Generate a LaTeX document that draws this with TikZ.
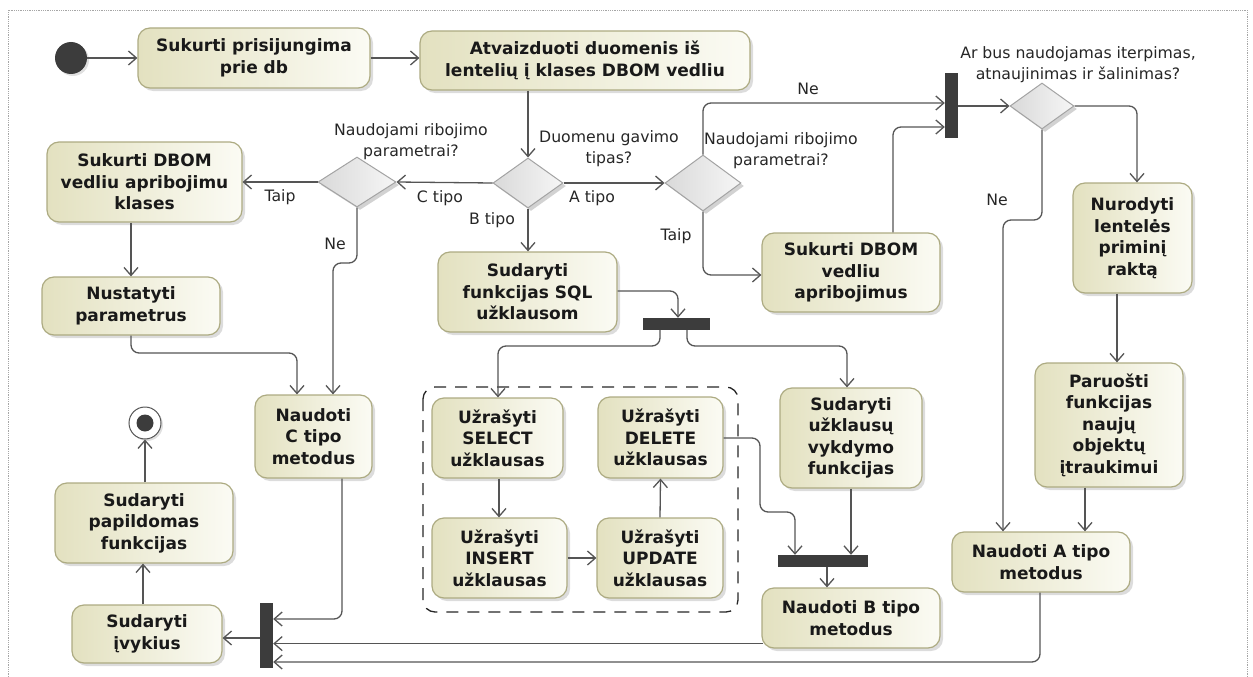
\documentclass[tikz,border=0pt]{standalone}
\usepackage{fontspec}
\setsansfont{DejaVu Sans}
\usetikzlibrary{arrows.meta,shadows,shapes.geometric,calc}
\definecolor{boxL}{HTML}{E3E1C0}
\definecolor{boxR}{HTML}{FBFBF4}
\definecolor{boxLine}{HTML}{ADAB82}
\definecolor{dmL}{HTML}{D9D9D9}
\definecolor{dmR}{HTML}{F6F6F6}
\definecolor{dmLine}{HTML}{A3A3A3}
\definecolor{flowGrey}{HTML}{555555}
\definecolor{barGrey}{HTML}{3C3C3C}
\newcommand\actfont{\sffamily\bfseries\fontsize{17}{21.5}\selectfont}
\newcommand\guardfont{\sffamily\fontsize{15.7}{21}\selectfont}
\tikzset{
  act/.style={rectangle, rounded corners=12pt, draw=boxLine, line width=1.2pt,
    left color=boxL, right color=boxR, align=center, font=\actfont, inner sep=0pt,
    text=black!90,
    drop shadow={shadow xshift=3pt, shadow yshift=-3pt, fill=black!30, opacity=.45}},
  choice/.style={diamond, draw=dmLine, line width=1pt, left color=dmL, right color=dmR,
    inner sep=0pt, aspect=1.4,
    drop shadow={shadow xshift=3pt, shadow yshift=-3pt, fill=black!35, opacity=.5}},
  syncbar/.style={rectangle, fill=barGrey, draw=none, inner sep=0pt},
  guard/.style={font=\guardfont, align=center, text=black!85, inner sep=0pt},
  flow/.style={draw=flowGrey, line width=1.3pt, rounded corners=8pt,
    -{Straight Barb[length=8pt,width=14pt]}},
  plain/.style={draw=flowGrey, line width=1.3pt, rounded corners=8pt},
}
\begin{document}
\begin{tikzpicture}[x=1pt,y=-1pt]
\useasboundingbox (0,0) rectangle (1253,677);
% outer frame
\draw[black!35, densely dotted, line width=0.8pt] (8,677) -- (8,10) -- (1247,10) -- (1247,677);

% start / end
\node[circle, fill=barGrey, minimum size=32pt, inner sep=0pt,
  drop shadow={shadow xshift=2pt, shadow yshift=-2pt, fill=black!30, opacity=.4}] (init) at (71,58) {};
\node[circle, fill=white, draw=flowGrey, line width=1pt, minimum size=32pt, inner sep=0pt,
  drop shadow={shadow xshift=2pt, shadow yshift=-2pt, fill=black!30, opacity=.4}] (final) at (145,423) {};
\node[circle, fill=barGrey, minimum size=17pt, inner sep=0pt] (finaldot) at (final) {};

% actions
\node[act, minimum width=232pt, minimum height=60pt] (n1) at (254,58) {Sukurti prisijungima\\prie db};
\node[act, minimum width=330pt, minimum height=59pt] (n2) at (585,60.5) {Atvaizduoti duomenis iš\\lentelių į klases DBOM vedliu};
\node[act, minimum width=195pt, minimum height=80pt] (n3) at (144.5,182) {Sukurti DBOM\\vedliu apribojimu\\klases};
\node[act, minimum width=178pt, minimum height=58pt] (n4) at (131,306) {Nustatyti\\parametrus};
\node[act, minimum width=117pt, minimum height=83pt] (n5) at (313.5,436.5) {Naudoti\\C tipo\\metodus};
\node[act, minimum width=178pt, minimum height=80pt] (n6) at (144,523) {Sudaryti\\papildomas\\funkcijas};
\node[act, minimum width=150pt, minimum height=58pt] (n7) at (147,634) {Sudaryti\\įvykius};
\node[act, minimum width=179pt, minimum height=80pt] (n8) at (527.5,292) {Sudaryti\\funkcijas SQL\\užklausom};

% query group
\draw[black!85, line width=1.3pt, dash pattern=on 12pt off 9pt, rounded corners=12pt]
  (423,387) rectangle (738,612);
\node[act, minimum width=131pt, minimum height=80pt] (n9) at (497.5,438) {Užrašyti\\SELECT\\užklausas};
\node[act, minimum width=125pt, minimum height=81pt] (n10) at (660.5,437.5) {Užrašyti\\DELETE\\užklausas};
\node[act, minimum width=135pt, minimum height=80pt] (n11) at (499.5,558) {Užrašyti\\INSERT\\užklausas};
\node[act, minimum width=126pt, minimum height=80pt] (n12) at (660,558) {Užrašyti\\UPDATE\\užklausas};

\node[act, minimum width=142pt, minimum height=100pt] (n13) at (851,438) {Sudaryti\\užklausų\\vykdymo\\funkcijas};
\node[act, minimum width=178pt, minimum height=60pt] (n14) at (851,618) {Naudoti B tipo\\metodus};
\node[act, minimum width=178pt, minimum height=79pt] (n15) at (851,272.5) {Sukurti DBOM\\vedliu\\apribojimus};
\node[act, minimum width=119pt, minimum height=110pt] (n16) at (1132.5,238) {Nurodyti\\lentelės\\priminį\\raktą};
\node[act, minimum width=148pt, minimum height=124pt] (n17) at (1109,425) {Paruošti\\funkcijas\\naujų\\objektų\\įtraukimui};
\node[act, minimum width=178pt, minimum height=60pt] (n18) at (1041,562) {Naudoti A tipo\\metodus};

% decisions
\node[choice, minimum width=70pt, minimum height=50pt] (d1) at (528,183) {};
\node[choice, minimum width=76pt, minimum height=56pt] (d2) at (703,183) {};
\node[choice, minimum width=78pt, minimum height=50pt] (d3) at (357,182) {};
\node[choice, minimum width=64pt, minimum height=46pt] (d4) at (1042,106) {};

% fork / join bars
\node[syncbar, minimum width=13pt, minimum height=65pt] (bar1) at (266.5,635.5) {};
\node[syncbar, minimum width=67pt, minimum height=12pt] (bar2) at (676.5,324) {};
\node[syncbar, minimum width=90pt, minimum height=12pt] (bar3) at (823,561) {};
\node[syncbar, minimum width=13pt, minimum height=65pt] (bar4) at (951.5,105.5) {};

% guard texts
\node[guard] (q1) at (609,149) {Duomenu gavimo\\tipas?};
\node[guard] (q2) at (781,151) {Naudojami ribojimo\\parametrai?};
\node[guard] (q3) at (411,142) {Naudojami ribojimo\\parametrai?};
\node[guard] (q4) at (1078,65) {Ar bus naudojamas iterpimas,\\atnaujinimas ir šalinimas?};
\node[guard] (gA) at (592,198) {A tipo};
\node[guard] (gB) at (492,220) {B tipo};
\node[guard] (gC) at (440,198) {C tipo};
\node[guard] (gT1) at (280,197) {Taip};
\node[guard] (gN1) at (335,244) {Ne};
\node[guard] (gT2) at (676,236) {Taip};
\node[guard] (gN2) at (808,89) {Ne};
\node[guard] (gN3) at (997,200) {Ne};

% flows
\draw[flow] (init) -- (n1.west |- init);
\draw[flow] (n1.east) -- (n1.east -| n2.west);
\draw[flow] (d1.north |- n2.south) -- (d1.north);
\draw[flow] (d1.east) -- (d2.west);
\draw[flow] (d1.west) -- (d3.east);
\draw[flow] (d1.south) -- (n8.north -| d1.south);
\draw[flow] (d3.west) -- (n3.east |- d3.west);
\draw[flow] (d3.south) -- (357,263) -- (333,263) -- (333,0 |- n5.north);
\draw[flow] (131,0 |- n3.south) -- (131,0 |- n4.north);
\draw[flow] (n4.south) -- (131,353) -- (297,353) -- (297,0 |- n5.north);
\draw[flow] (342,0 |- n5.south) -- (342,619) -- (bar1.east |- 0,619);
\draw[flow] (bar1.west |- 0,638) -- (n7.east |- 0,638);
\draw[flow] (143,0 |- n7.north) -- (143,0 |- n6.south);
\draw[flow] (final.south |- n6.north) -- (final.south);

\draw[flow] (n8.east |- 0,291) -- (678,291) -- (678,0 |- bar2.north);
\draw[flow] (660,0 |- bar2.south) -- (660,346) -- (498,346) -- (498,0 |- n9.north);
\draw[flow] (687,0 |- bar2.south) -- (687,346) -- (847,346) -- (847,0 |- n13.north);
\draw[flow] (499,0 |- n9.south) -- (499,0 |- n11.north);
\draw[flow] (n11.east) -- (n12.west);
\draw[flow] (n12.north) -- (n10.south);
\draw[flow] (n10.east |- 0,438) -- (760,438) -- (760,512) -- (795,512) -- (795,0 |- bar3.north);
\draw[flow] (851,0 |- n13.south) -- (851,0 |- bar3.north);
\draw[flow] (827,0 |- bar3.south) -- (827,0 |- n14.north);
\coordinate (n14out) at ($(n14.south west)+(2,-5)$);
\draw[flow] (n14out) -- (bar1.east |- n14out);
\draw[flow] (1040,0 |- n18.south) -- (1040,662) -- (bar1.east |- 0,662);

\draw[flow] (d2.south) -- (703,275) -- (n15.west |- 0,275);
\draw[flow] (d2.north) -- (703,103) -- (bar4.west |- 0,103);
\draw[flow] (893,0 |- n15.north) -- (893,127) -- (bar4.west |- 0,127);
\draw[flow] (bar4.east |- d4.west) -- (d4.west);
\draw[flow] (d4.east) -- (1137,106) -- (1137,0 |- n16.north);
\draw[flow] (d4.south) -- (1042,220) -- (1003,220) -- (1003,0 |- n18.north);
\draw[flow] (1117,0 |- n16.south) -- (1117,0 |- n17.north);
\draw[flow] (1085,0 |- n17.south) -- (1085,0 |- n18.north);
\end{tikzpicture}
\end{document}
